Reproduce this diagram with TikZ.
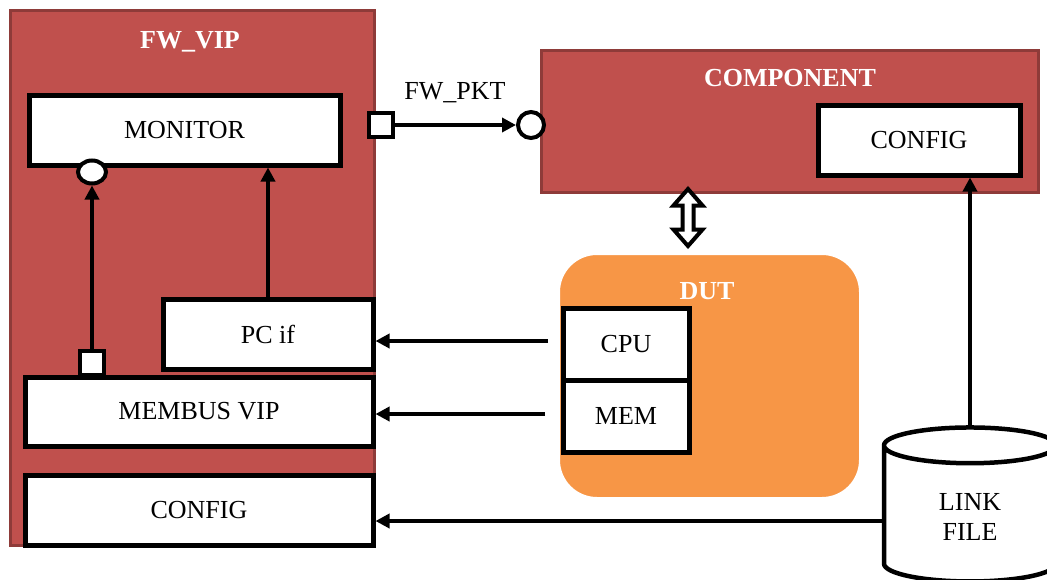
\documentclass[tikz,border=0pt]{standalone}
\usepackage{fontspec}
\setmainfont{Liberation Serif}
\usetikzlibrary{arrows.meta,shapes.geometric,shadows}
\definecolor{vipred}{HTML}{C0504D}
\definecolor{vipedge}{HTML}{8E3B39}
\definecolor{dutorange}{HTML}{F79646}
\begin{document}
\begin{tikzpicture}[
x=1pt, y=-1pt,
every node/.style={font=\fontsize{26}{30}\selectfont},
redblock/.style={rectangle, fill=vipred, draw=vipedge, line width=3pt, inner sep=0pt},
whitebox/.style={rectangle, fill=white, draw=black, line width=5pt, inner sep=0pt},
titletext/.style={text=white, font=\fontsize{26}{30}\selectfont\bfseries},
port/.style={rectangle, fill=white, draw=black, line width=4pt, minimum size=24pt, inner sep=0pt},
socket/.style={ellipse, fill=white, draw=black, line width=4pt, inner sep=0pt},
link/.style={draw=black, line width=4pt, -{Triangle[length=14pt,width=14pt]}},
]
\useasboundingbox (0,0) rectangle (1047,579);

% FW_VIP side
\node [redblock, minimum width=364pt, minimum height=535pt] (vip) at (192,277.5) {};
\node [titletext] (viptitle) at (190,42) {FW\_VIP};
\node [whitebox, minimum width=311pt, minimum height=70pt] (monitor) at (184.5,130) {MONITOR};
\node [whitebox, minimum width=210pt, minimum height=70pt] (pcif) at (268,334) {PC if};
\node [whitebox, minimum width=348pt, minimum height=69pt] (membus) at (199,411.5) {MEMBUS VIP};
\node [whitebox, minimum width=348pt, minimum height=70pt] (cfgl) at (199,510) {CONFIG};
\node [socket, minimum width=28pt, minimum height=23pt] (monin) at (92,172) {};
\node [port] (busout) at (92,363) {};
\node [port] (pktout) at (381,125) {};
\node (pktlabel) at (455,93) {FW\_PKT};

% component side
\node [redblock, minimum width=497pt, minimum height=142pt] (comp) at (789.5,121) {};
\node [titletext] (comptitle) at (790,78) {COMPONENT};
\node [whitebox, minimum width=202pt, minimum height=70pt] (cfgr) at (919,140) {CONFIG};
\node [socket, minimum width=26pt, minimum height=26pt] (pktin) at (531,125) {};

% DUT
\node [rectangle, rounded corners=40pt, fill=dutorange, draw=white, line width=6pt,
drop shadow={opacity=0.2, shadow xshift=1.5pt, shadow yshift=-1.5pt},
minimum width=305pt, minimum height=248pt] (dut) at (709.5,376) {};
\node [titletext] (duttitle) at (707,291) {DUT};
\node [whitebox, minimum width=126pt, minimum height=72pt] (cpu) at (626,344) {CPU};
\node [whitebox, minimum width=126pt, minimum height=72pt] (mem) at (626,416) {MEM};

% hollow two-way arrow between COMPONENT and DUT
\draw [shift={(688,217.5)}, fill=white, draw=black, line width=4pt, line join=miter]
(0,-28.5) -- (14.5,-12) -- (5.5,-12) -- (5.5,12) -- (14.5,12) -- (0,28.5)
-- (-14.5,12) -- (-5.5,12) -- (-5.5,-12) -- (-14.5,-12) -- cycle;

% link file
\node [cylinder, shape border rotate=90, aspect=0.52, fill=white, draw=black, line width=4.5pt,
minimum width=172pt, minimum height=154pt, align=center] (linkfile) at (970,517) {LINK\\FILE};
\coordinate (cpuout) at (548,341);
\coordinate (memout) at (545,414);
\coordinate (linkout) at (884,521);

\path[link] (busout.north) -- (monin.south);
\path[link] (pcif.north) -- (pcif.north |- monitor.south);
\path[link] (pktout.east) -- (pktin.west);
\path[link] (cpuout) -- (pcif.east |- cpuout);
\path[link] (memout) -- (membus.east |- memout);
\path[link] (linkfile.north) -- (linkfile.north |- cfgr.south);
\path[link] (linkout) -- (cfgl.east |- linkout);

\end{tikzpicture}
\end{document}
